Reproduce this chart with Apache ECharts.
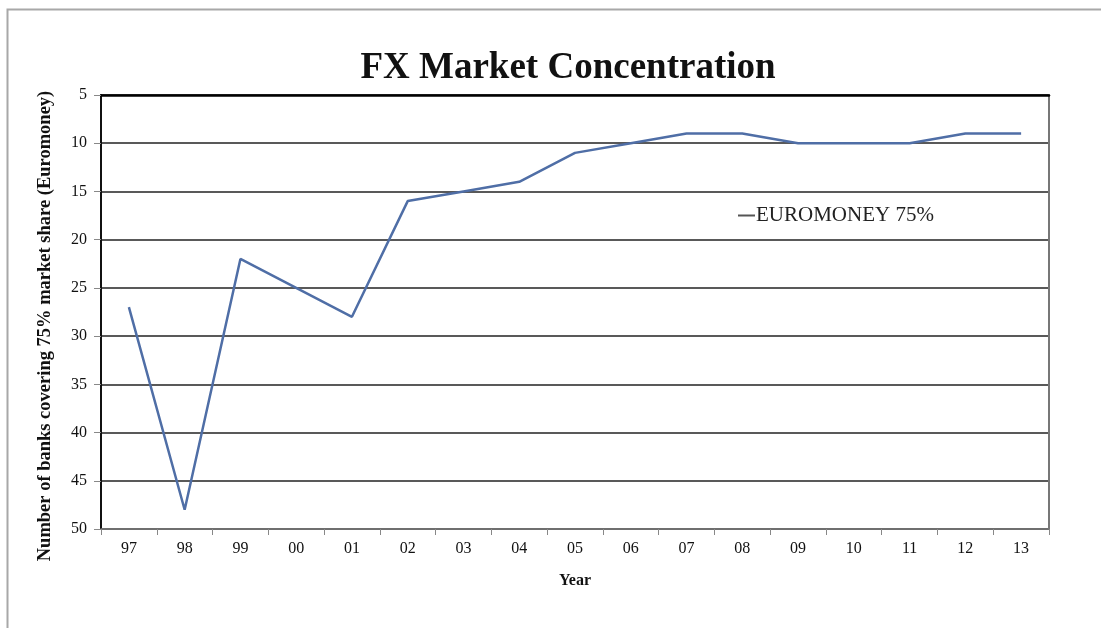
<!DOCTYPE html>
<html>
<head>
<meta charset="utf-8">
<script src="https://cdn.jsdelivr.net/npm/echarts@6/dist/echarts.min.js"></script>
<style>
html,body{margin:0;padding:0;background:#fff;}
#chart{width:1101px;height:628px;}
</style>
</head>
<body>
<div id="chart"></div>
<script>
const years = ['97','98','99','00','01','02','03','04','05','06','07','08','09','10','11','12','13'];
const euromoney75 = [27,48,22,25,28,16,15,14,11,10,9,9,10,10,10,9,9];
const yTicks = {min:5, max:50, interval:5};

const serif = '"Liberation Serif","Times New Roman",serif';
const chart = echarts.init(document.getElementById('chart'));
chart.setOption({
  backgroundColor:'#fff',
  animation:false,
  title:{
    text:'FX Market Concentration',
    left:563, top:45, textAlign:'center',
    textStyle:{fontFamily:serif,fontSize:37,fontWeight:'bold',color:'#111'}
  },
  graphic:[{
    type:'polyline',
    shape:{points:[[7.5,628],[7.5,9.5],[1101,9.5]]},
    style:{stroke:'#a8a8a8',lineWidth:2,fill:null},
    silent:true
  }],
  legend:{
    left:733, top:200,
    itemWidth:17, itemHeight:2, itemGap:0,
    icon:'rect',
    textStyle:{fontFamily:serif,fontSize:21,color:'#222',padding:[0,0,0,-4]},
    data:[{name:'EUROMONEY 75%', itemStyle:{color:'#555'}}]
  },
  grid:{left:101,right:52,top:95,bottom:99,containLabel:false},
  xAxis:[{
    type:'category',
    data:years,
    boundaryGap:true,
    name:'Year',
    nameLocation:'middle',
    nameGap:44,
    nameTextStyle:{fontFamily:serif,fontSize:16,fontWeight:'bold',color:'#111'},
    axisLine:{lineStyle:{color:'#777',width:1.5}},
    axisTick:{show:true,length:6,inside:false,lineStyle:{color:'#888'}},
    axisLabel:{fontFamily:serif,fontSize:16,color:'#111',margin:12},
    splitLine:{show:false}
  },{
    type:'category',
    data:years,
    position:'top',
    axisLine:{show:true,lineStyle:{color:'#000',width:2.5}},
    axisTick:{show:false},
    axisLabel:{show:false},
    splitLine:{show:false}
  }],
  yAxis:[{
    type:'value',
    inverse:true,
    min:yTicks.min, max:yTicks.max, interval:yTicks.interval,
    name:'Number of banks covering 75% market share (Euromoney)',
    nameLocation:'middle',
    nameGap:46,
    nameRotate:90,
    nameTextStyle:{fontFamily:serif,fontSize:18.5,fontWeight:'bold',color:'#111',padding:[0,28,0,0]},
    axisLine:{show:true,lineStyle:{color:'#111',width:2}},
    axisTick:{show:true,length:7,inside:false,lineStyle:{color:'#888'}},
    axisLabel:{fontFamily:serif,fontSize:16,color:'#111',margin:14},
    splitLine:{show:true,lineStyle:{color:'#222',width:1.5}}
  },{
    type:'value',
    inverse:true,
    position:'right',
    min:yTicks.min, max:yTicks.max, interval:yTicks.interval,
    axisLine:{show:true,lineStyle:{color:'#777',width:2}},
    axisTick:{show:false},
    axisLabel:{show:false},
    splitLine:{show:false}
  }],
  series:[{
    name:'EUROMONEY 75%',
    type:'line',
    data:euromoney75,
    showSymbol:false,
    symbol:'none',
    lineStyle:{color:'#4f6ea6',width:2.5},
    itemStyle:{color:'#4f6ea6'}
  }]
});
</script>
</body>
</html>
